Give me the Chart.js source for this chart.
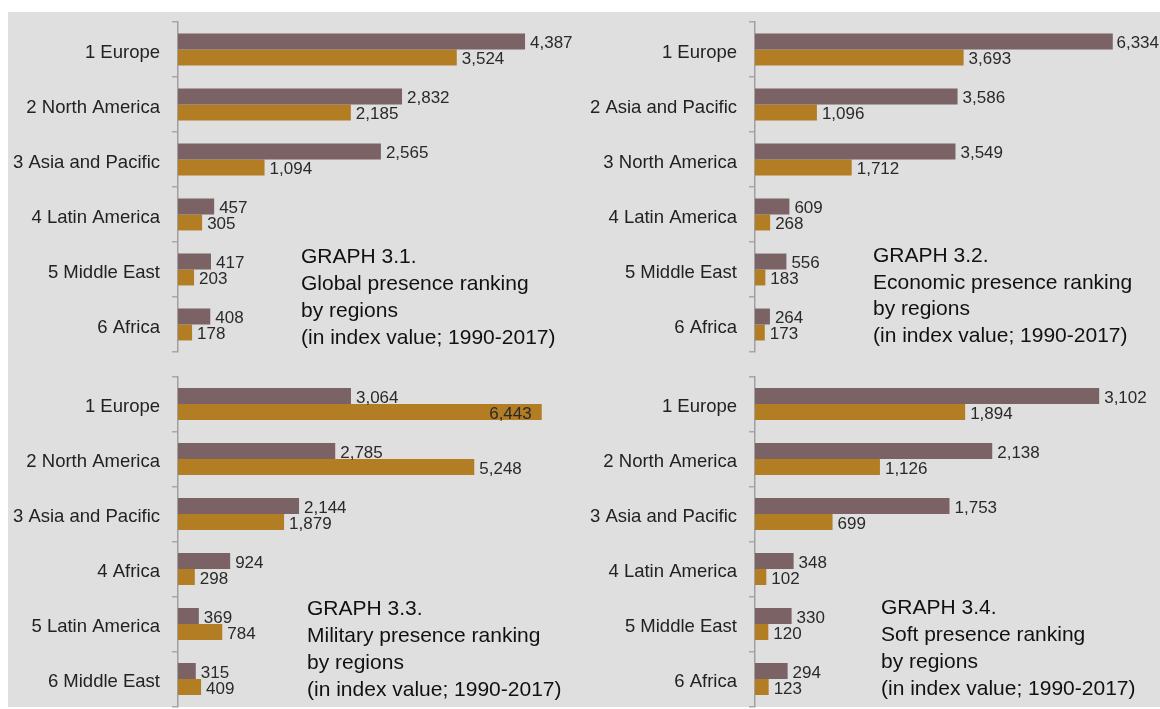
<!DOCTYPE html>
<html>
<head>
<meta charset="utf-8">
<script src="https://cdn.jsdelivr.net/npm/chart.js@4"></script>
<style>
  body { margin: 0; background: #fff; width: 1160px; height: 709px; position: relative; overflow: hidden; }
  #bg { position: absolute; left: 8px; top: 12px; width: 1152px; height: 695px; background: #dfdfdf; }
  canvas { position: absolute; }
  .title { position: absolute; font-family: "Liberation Sans", Arial, sans-serif; font-size: 21px; line-height: 27px; color: #111; }
</style>
</head>
<body>
<div id="bg"></div>
<canvas id="c1" width="572" height="345" style="left:8px;top:12px"></canvas>
<canvas id="c2" width="580" height="345" style="left:580px;top:12px"></canvas>
<canvas id="c3" width="572" height="347" style="left:8px;top:362px"></canvas>
<canvas id="c4" width="580" height="347" style="left:580px;top:362px"></canvas>
<div class="title" style="left:301px;top:242px">GRAPH 3.1.<br>Global presence ranking<br>by regions<br>(in index value; 1990-2017)</div>
<div class="title" style="left:873px;top:242px;line-height:26.5px">GRAPH 3.2.<br>Economic presence ranking<br>by regions<br>(in index value; 1990-2017)</div>
<div class="title" style="left:307px;top:594px">GRAPH 3.3.<br>Military presence ranking<br>by regions<br>(in index value; 1990-2017)</div>
<div class="title" style="left:881px;top:593px">GRAPH 3.4.<br>Soft presence ranking<br>by regions<br>(in index value; 1990-2017)</div>
<script>
// global presence
const globalRegions = ['1 Europe', '2 North America', '3 Asia and Pacific', '4 Latin America', '5 Middle East', '6 Africa'];
const global2017 = [4387, 2832, 2565, 457, 417, 408];
const global1990 = [3524, 2185, 1094, 305, 203, 178];

// economic presence
const econRegions = ['1 Europe', '2 Asia and Pacific', '3 North America', '4 Latin America', '5 Middle East', '6 Africa'];
const econ2017 = [6334, 3586, 3549, 609, 556, 264];
const econ1990 = [3693, 1096, 1712, 268, 183, 173];

// military presence
const milRegions = ['1 Europe', '2 North America', '3 Asia and Pacific', '4 Africa', '5 Latin America', '6 Middle East'];
const mil2017 = [3064, 2785, 2144, 924, 369, 315];
const mil1990 = [6443, 5248, 1879, 298, 784, 409];

// soft presence
const softRegions = ['1 Europe', '2 North America', '3 Asia and Pacific', '4 Latin America', '5 Middle East', '6 Africa'];
const soft2017 = [3102, 2138, 1753, 348, 330, 294];
const soft1990 = [1894, 1126, 699, 102, 120, 123];

const maroon = '#7a6265';
const gold = '#b27d23';

// value labels at the end of each bar (inside when it runs off the panel)
const valueLabels = {
  id: 'valueLabels',
  afterDatasetsDraw(chart) {
    const ctx = chart.ctx;
    ctx.save();
    ctx.font = '17px "Liberation Sans", Arial, sans-serif';
    ctx.fillStyle = '#2a2a2a';
    ctx.textBaseline = 'middle';
    chart.data.datasets.forEach((ds, i) => {
      chart.getDatasetMeta(i).data.forEach((bar, j) => {
        const txt = ds.data[j].toLocaleString('en-US');
        const w = ctx.measureText(txt).width;
        if (bar.x + 5 + w > chart.width + 8) {
          ctx.textAlign = 'right';
          ctx.fillText(txt, bar.x - 10, bar.y + 2);
        } else {
          ctx.textAlign = 'left';
          ctx.fillText(txt, Math.min(bar.x + 5, chart.width - w - 1), bar.y + 2);
        }
      });
    });
    ctx.restore();
  }
};

function makeChart(id, labels, a, b, xmax, axisW, padTop, padBottom) {
  return new Chart(document.getElementById(id).getContext('2d'), {
    type: 'bar',
    data: {
      labels: labels,
      datasets: [
        { label: '2017', data: a, backgroundColor: maroon, borderWidth: 0 },
        { label: '1990', data: b, backgroundColor: gold, borderWidth: 0 }
      ]
    },
    options: {
      indexAxis: 'y',
      responsive: false,
      animation: false,
      categoryPercentage: 0.58,
      barPercentage: 1.0,
      layout: { padding: { top: padTop, bottom: padBottom, left: 0, right: 0 } },
      plugins: { legend: { display: false }, tooltip: { enabled: false } },
      scales: {
        x: { display: false, min: 0, max: xmax },
        y: {
          afterFit: (scale) => {
            scale.width = axisW;
            scale.paddingTop = 0;
            scale.paddingBottom = 0;
          },
          grid: { drawOnChartArea: false, drawTicks: true, tickLength: 6, color: '#a8a8a8', lineWidth: 1.5 },
          border: { display: true, color: '#a0a0a0', width: 1.5 },
          ticks: { color: '#222', padding: 12, labelOffset: 3, font: { size: 18.5, family: '"Liberation Sans", Arial, sans-serif' } }
        }
      }
    },
    plugins: [valueLabels]
  });
}

makeChart('c1', globalRegions, global2017, global1990, 5082, 170, 10, 5);
makeChart('c2', econRegions, econ2017, econ1990, 7170, 175, 10, 5);
makeChart('c3', milRegions, mil2017, mil1990, 7121, 170, 14.5, 2.5);
makeChart('c4', softRegions, soft2017, soft1990, 3650, 175, 14.5, 2.5);
</script>
</body>
</html>
